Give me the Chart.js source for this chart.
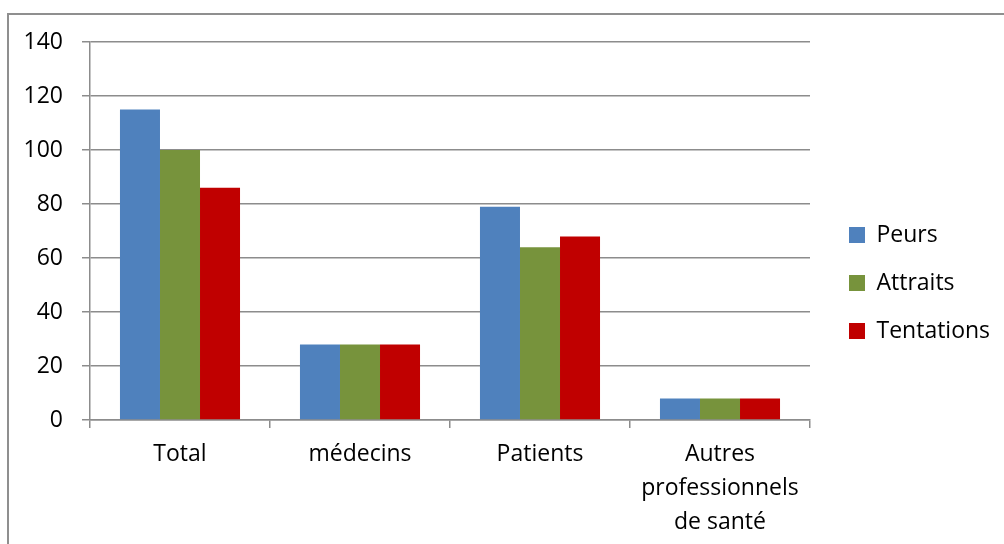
<!DOCTYPE html>
<html>
<head>
<meta charset="utf-8">
<script src="https://cdn.jsdelivr.net/npm/chart.js@4.4.0/dist/chart.umd.min.js"></script>
<style>
    html, body { margin: 0; padding: 0; background: #fff; overflow: hidden; }
    #frame {
        position: absolute; left: 7px; top: 13px; width: 1100px; height: 600px;
        border-left: 2px solid #8f8f8f; border-top: 2px solid #8f8f8f;
    }
    #wrap { position: absolute; left: 0; top: 0; width: 1004px; height: 544px; }
</style>
</head>
<body>
<div id="frame"></div>
<div id="wrap"><canvas id="chart"></canvas></div>
<script>
// Data
const categories = ['Total', 'médecins', 'Patients', ['Autres', 'professionnels', 'de santé']];
const seriesNames = ['Peurs', 'Attraits', 'Tentations'];
const peurs = [115, 28, 79, 8];
const attraits = [100, 28, 64, 8];
const tentations = [86, 28, 68, 8];
const yMin = 0;
const yMax = 140;
const yStep = 20;

const colors = ['#4f81bd', '#77933c', '#c00000'];
const gridColor = '#8c8c8c';
const font = { family: '"Open Sans", sans-serif', size: 23 };

// fix legend width so the plot ends where the reference does, and nudge it into place
const legendPlace = {
    id: 'legendPlace',
    afterInit(chart) {
        const legend = chart.legend;
        const fit = legend.fit;
        legend.fit = function () {
            fit.call(this);
            this.width = 194;
        };
    },
    afterUpdate(chart) {
        const legend = chart.legend;
        legend.left += 14;
        legend.right += 14;
        legend.top -= 10;
        legend.bottom -= 10;
    }
};

const ctx = document.getElementById('chart').getContext('2d');
new Chart(ctx, {
    type: 'bar',
    data: {
        labels: categories,
        datasets: [
            { label: seriesNames[0], data: peurs, backgroundColor: colors[0] },
            { label: seriesNames[1], data: attraits, backgroundColor: colors[1] },
            { label: seriesNames[2], data: tentations, backgroundColor: colors[2] }
        ]
    },
    options: {
        responsive: true,
        maintainAspectRatio: false,
        animation: false,
        datasets: {
            bar: { categoryPercentage: 0.667, barPercentage: 1.0 }
        },
        layout: { padding: { top: 42, left: 0, right: 0, bottom: 0 } },
        plugins: {
            tooltip: { enabled: false },
            legend: {
                position: 'right',
                labels: {
                    boxWidth: 16,
                    boxHeight: 16,
                    padding: 25,
                    color: '#000',
                    font: font
                }
            }
        },
        scales: {
            x: {
                grid: {
                    drawOnChartArea: false,
                    drawTicks: true,
                    tickLength: 8,
                    color: gridColor,
                    lineWidth: 1.5
                },
                border: { color: gridColor, width: 1.5 },
                ticks: {
                    color: '#000',
                    padding: 10,
                    maxRotation: 0,
                    autoSkip: false,
                    font: { family: font.family, size: font.size, lineHeight: 1.47 }
                },
                afterFit(scale) { scale.height = 124; }
            },
            y: {
                min: yMin,
                max: yMax,
                ticks: {
                    stepSize: yStep,
                    color: '#000',
                    padding: 19,
                    font: font
                },
                grid: {
                    color: gridColor,
                    lineWidth: 1.5,
                    tickLength: 8
                },
                border: { color: gridColor, width: 1.5 },
                afterFit(scale) { scale.width = 90; }
            }
        }
    },
    plugins: [legendPlace]
});
</script>
</body>
</html>
